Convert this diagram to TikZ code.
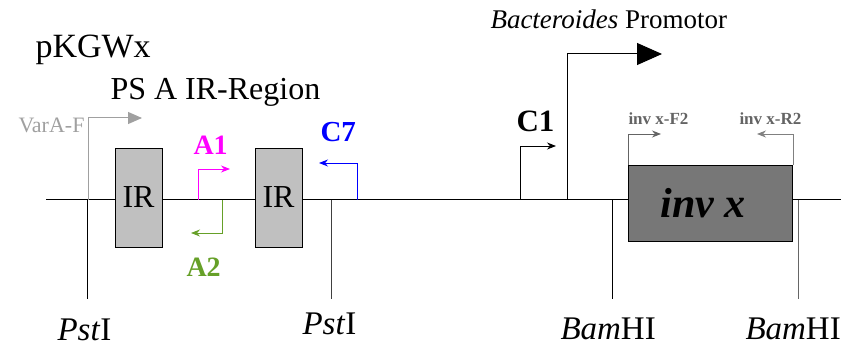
\documentclass[tikz,border=0pt]{standalone}
\usepackage{fontspec}
\setmainfont{Liberation Serif}
\usetikzlibrary{arrows.meta,positioning}
\newcommand\fsz[1]{\fontsize{#1}{#1}\selectfont}
\definecolor{varagray}{RGB}{160,160,160}
\definecolor{aonemag}{RGB}{255,0,255}
\definecolor{atwogreen}{RGB}{102,160,40}
\definecolor{csevenblue}{RGB}{0,0,255}
\definecolor{irgray}{RGB}{192,192,192}
\definecolor{invgray}{RGB}{119,119,119}
\definecolor{primgray}{RGB}{100,100,100}

\begin{document}
\begin{tikzpicture}[x=1pt,y=-1pt,line width=1pt,
 box/.style={draw,line width=0.8pt,inner sep=0pt},
 lab/.style={inner sep=0pt,anchor=base west},
 site/.style={lab,font=\fsz{33}},
 primer/.style={line width=0.9pt,-{Stealth[length=9pt,width=7pt]}}]
\useasboundingbox (0,0) rectangle (841,347);
% backbone
\coordinate (l0) at (46,200);
\coordinate (l1) at (841,200);
\draw (l0) -- (l1);
% restriction sites
\coordinate (p1) at (87,200); \coordinate (p1e) at (87,299);
\coordinate (p2) at (331,200); \coordinate (p2e) at (331,299);
\coordinate (b1) at (612,200); \coordinate (b1e) at (612,299);
\coordinate (b2) at (798,200); \coordinate (b2e) at (798,299);
\draw (p1) -- (p1e);
\draw[black!75] (p2) -- (p2e);
\draw (b1) -- (b1e);
\draw[black!60] (b2) -- (b2e);
\node[site] (p1lab) at (57,341) {\textit{Pst}I};
\node[site] (p2lab) at (302,335) {\textit{Pst}I};
\node[site] (b1lab) at (560,340) {\textit{Bam}HI};
\node[site] (b2lab) at (745,340) {\textit{Bam}HI};
% boxes
\node[box,fill=irgray,minimum width=47pt,minimum height=99pt,font=\fsz{32}] (ir1) at (138.5,197.5) {IR};
\node[box,fill=irgray,minimum width=47pt,minimum height=99pt,font=\fsz{32}] (ir2) at (278.5,197.5) {IR};
\node[box,fill=invgray,minimum width=164pt,minimum height=76pt] (inv) at (710,203) {};
\node[lab,anchor=base,font=\fsz{42}\bfseries\itshape] (invlab) at (703,218) {inv x};
% titles
\node[lab,font=\fsz{34}] (title) at (35,58) {pKGWx};
\node[lab,font=\fsz{32}] (region) at (110,100) {PS A IR-Region};
\node[lab,font=\fsz{27}] (promlab) at (490,29) {\textit{Bacteroides} Promotor};
% primers
\coordinate (vf) at (88,200); \coordinate (vft) at (142,118);
\draw[varagray,-{Triangle[length=14pt,width=12pt]}] (vf) |- (vft);
\node[lab,anchor=base east,font=\fsz{22},text=varagray] (vflab) at (85,133) {VarA-F};
\coordinate (a1) at (198,200); \coordinate (a1t) at (230,169);
\draw[primer,aonemag] (a1) |- (a1t);
\node[lab,font=\fsz{28}\bfseries,text=aonemag] (a1lab) at (193,155) {A1};
\coordinate (a2) at (222,200); \coordinate (a2t) at (191,233);
\draw[primer,atwogreen] (a2) |- (a2t);
\node[lab,font=\fsz{28}\bfseries,text=atwogreen] (a2lab) at (186,277) {A2};
\coordinate (c7) at (357,200); \coordinate (c7t) at (319,163);
\draw[primer,csevenblue] (c7) |- (c7t);
\node[lab,font=\fsz{29}\bfseries,text=csevenblue] (c7lab) at (320,142) {C7};
\coordinate (c1) at (520,200); \coordinate (c1t) at (556,146);
\draw[primer] (c1) |- (c1t);
\node[lab,font=\fsz{31}\bfseries] (c1lab) at (516,132) {C1};
\coordinate (bp) at (567,200); \coordinate (bpt) at (662,54);
\draw[-{Triangle[length=25pt,width=22pt]}] (bp) |- (bpt);
\coordinate (f2t) at (661,134); \coordinate (r2t) at (757,134);
\draw[primer,primgray] ([xshift=1pt]inv.north west) |- (f2t);
\draw[primer,black!50] ([xshift=1pt]inv.north east) |- (r2t);
\node[lab,font=\fsz{17}\bfseries,text=primgray] (f2lab) at (628,125) {inv x-F2};
\node[lab,font=\fsz{17}\bfseries,text=primgray] (r2lab) at (739,125) {inv x-R2};
\end{tikzpicture}
\end{document}
